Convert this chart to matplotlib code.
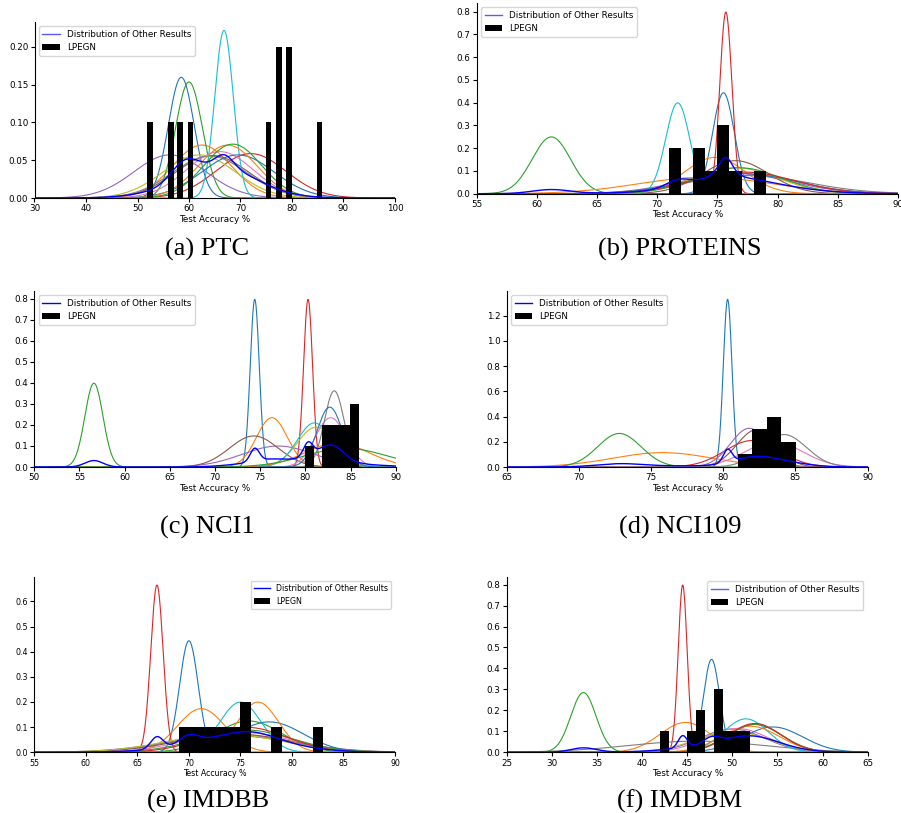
import numpy as np
import matplotlib
matplotlib.use('Agg')
import matplotlib.pyplot as plt

# reported results of other methods: mean and std of test accuracy (%)
ptc_means = [58.5, 62.5, 60.0, 72.0, 56.3, 64.5, 66.0, 64.0, 62.0, 66.8, 69.5, 67.5, 68.5]
ptc_stds = [2.5, 5.7, 2.6, 6.8, 7.0, 7.1, 6.5, 7.2, 7.0, 1.8, 7.0, 5.7, 5.6]
prot_means = [75.5, 74.8, 61.2, 75.7, 76.5, 76.5, 77.0, 77.5, 76.5, 71.7, 77.0, 74.0, 76.8, 77.2]
prot_stds = [0.9, 2.5, 1.6, 0.5, 4.5, 2.75, 4.5, 5.0, 3.5, 1.0, 4.5, 5.5, 3.5, 4.2]
nci1_means = [74.4, 76.3, 56.6, 80.3, 77.0, 74.3, 82.8, 83.2, 81.2, 81.0, 82.7, 83.5, 84.5]
nci1_stds = [0.5, 1.7, 1.0, 0.5, 4.0, 2.7, 1.7, 1.1, 2.1, 1.9, 1.4, 3.5, 4.5]
nci109_means = [80.3, 75.8, 72.8, 82.0, 81.8, 82.3, 83.5, 84.2]
nci109_stds = [0.3, 3.5, 1.5, 1.9, 1.3, 1.35, 2.0, 1.55]
imdbb_means = [70.0, 71.2, 75.8, 66.9, 74.0, 74.5, 75.0, 74.0, 73.5, 75.0, 77.8, 76.7, 75.5, 75.5]
imdbb_stds = [0.9, 2.3, 3.2, 0.6, 5.5, 5.5, 5.0, 6.0, 5.5, 2.0, 3.3, 2.0, 4.5, 4.0]
imdbm_means = [47.7, 44.8, 33.5, 44.5, 50.0, 52.5, 50.5, 46.0, 50.0, 51.5, 54.5, 52.0, 52.5, 52.5]
imdbm_stds = [0.9, 2.8, 1.4, 0.5, 3.6, 3.0, 3.5, 7.5, 4.0, 2.5, 3.3, 3.2, 3.0, 2.9]

# number of compared methods per dataset (some have no reported result)
n_methods = [13, 14, 13, 13, 14, 14]

# LPEGN histogram (fraction of runs per bin)
ptc_bar_x = [52.4, 56.45, 58.3, 60.3, 75.45, 77.45, 79.4, 85.35]
ptc_bar_h = [0.1, 0.1, 0.1, 0.1, 0.1, 0.2, 0.2, 0.1]
prot_bar_x = [71.5, 73.5, 74.5, 75.5, 76.5, 78.5]
prot_bar_h = [0.2, 0.2, 0.1, 0.3, 0.1, 0.1]
nci1_bar_x = [80.45, 82.4, 83.4, 84.4, 85.45]
nci1_bar_h = [0.1, 0.2, 0.2, 0.2, 0.3]
nci109_bar_x = [81.5, 82.5, 83.5, 84.5]
nci109_bar_h = [0.1, 0.3, 0.4, 0.2]
imdbb_bar_x = [69.5, 70.5, 71.5, 72.5, 73.5, 74.5, 75.5, 78.5, 82.5]
imdbb_bar_h = [0.1, 0.1, 0.1, 0.1, 0.1, 0.1, 0.2, 0.1, 0.1]
imdbm_bar_x = [42.5, 45.5, 46.5, 48.5, 49.5, 50.5, 51.5]
imdbm_bar_h = [0.1, 0.1, 0.2, 0.3, 0.1, 0.1, 0.1]

captions = ['(a) PTC', '(b) PROTEINS', '(c) NCI1', '(d) NCI109', '(e) IMDBB', '(f) IMDBM']
xlims = [(30, 100), (55, 90), (50, 90), (65, 90), (55, 90), (25, 65)]

W, H = 901, 813


def px_axes(fig, left, right, top, bottom):
    return fig.add_axes([left / W, 1 - bottom / H, (right - left) / W, (bottom - top) / H])


def gauss(x, mu, sd):
    return np.exp(-0.5 * ((x - mu) / sd) ** 2) / (sd * np.sqrt(2 * np.pi))


def draw_panel(ax, means, stds, n, bar_x, bar_h, bar_w, xlim, fs, legend_loc, soft_handle):
    x = np.linspace(xlim[0], xlim[1], 1500)
    curves = []
    for mu, sd in zip(means, stds):
        y = gauss(x, mu, sd)
        curves.append(y)
        ax.plot(x, y, lw=0.8, zorder=1)
    mix = np.sum(curves, axis=0) / n
    dist, = ax.plot(x, mix, color='blue', lw=1.0, zorder=3,
                    label='Distribution of Other Results')
    bars = ax.bar(bar_x, bar_h, width=bar_w, color='black', zorder=2, label='LPEGN')
    ax.set_xlim(*xlim)
    ax.set_ylim(bottom=0)
    ax.spines['top'].set_visible(False)
    ax.spines['right'].set_visible(False)
    ax.tick_params(labelsize=fs, length=3, width=0.8, pad=1.5)
    ax.set_xlabel('Test Accuracy %', fontsize=fs, labelpad=1)
    leg = ax.legend([dist, bars], ['Distribution of Other Results', 'LPEGN'],
                    loc=legend_loc, fontsize=fs)
    if soft_handle:
        leg.get_lines()[0].set_alpha(0.65)


fig = plt.figure(figsize=(W / 100, H / 100), dpi=100)

panels = [
    (ptc_means, ptc_stds, ptc_bar_x, ptc_bar_h, 1.1, (34.5, 395, 22, 198), 6.3, 'upper left', True),
    (prot_means, prot_stds, prot_bar_x, prot_bar_h, 1.0, (476.7, 898, 3, 193.7), 6.3, 'upper left', True),
    (nci1_means, nci1_stds, nci1_bar_x, nci1_bar_h, 1.03, (34.3, 395.7, 291, 467), 6.3, 'upper left', False),
    (nci109_means, nci109_stds, nci109_bar_x, nci109_bar_h, 1.0, (506.7, 867.7, 291, 467), 6.3, 'upper left', False),
    (imdbb_means, imdbb_stds, imdbb_bar_x, imdbb_bar_h, 1.0, (34.3, 395, 576.7, 752.3), 5.7, 'upper right', False),
    (imdbm_means, imdbm_stds, imdbm_bar_x, imdbm_bar_h, 1.0, (506.7, 867.7, 576.7, 752.3), 6.3, 'upper right', True),
]

cap_pos = [(207, 249), (680, 249), (207, 527), (680, 527), (208, 801), (680, 801)]

for i, (m, s, bx, bh, bw, box, fs, loc, soft) in enumerate(panels):
    ax = px_axes(fig, *box)
    draw_panel(ax, m, s, n_methods[i], bx, bh, bw, xlims[i], fs, loc, soft)
    cx, cy = cap_pos[i]
    fig.text(cx / W, 1 - cy / H, captions[i], ha='center', va='center',
             fontsize=19, family='Liberation Serif')

fig.savefig('out.png', dpi=100)
